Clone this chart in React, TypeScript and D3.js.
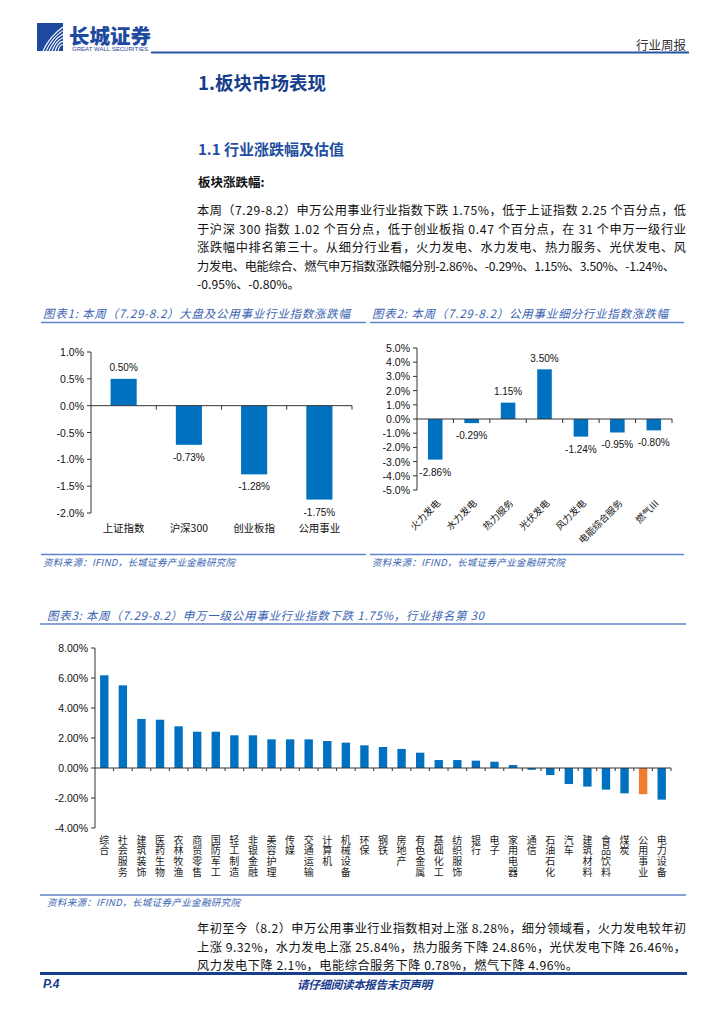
import * as d3 from "d3";

const W = 724;
const H = 1024;

const CN = '"Noto Sans CJK SC", "Noto Sans", sans-serif';
const LAT = '"Liberation Sans", Arial, "Noto Sans CJK SC", sans-serif';

const BAR = "#0070c0";
const HIGHLIGHT = "#ed7d31";
const TITLE_BLUE = "#3a64b2";
const RULE_BLUE = "#5f84c9";
const DARK_BLUE = "#163c8c";

// 图表1: 大盘及公用事业
const marketCats = ["上证指数", "沪深300", "创业板指", "公用事业"];
const marketVals = [0.5, -0.73, -1.28, -1.75];
const marketTicks = [1.0, 0.5, 0, -0.5, -1.0, -1.5, -2.0];

// 图表2: 公用事业细分行业
const subCats = ["火力发电", "水力发电", "热力服务", "光伏发电", "风力发电", "电能综合服务", "燃气Ⅲ"];
const subVals = [-2.86, -0.29, 1.15, 3.5, -1.24, -0.95, -0.8];
const subTicks = [5, 4, 3, 2, 1, 0, -1, -2, -3, -4, -5];

// 图表3: 申万一级行业
const swCats = [
  "综合", "社会服务", "建筑装饰", "医药生物", "农林牧渔", "商贸零售", "国防军工", "轻工制造",
  "非银金融", "美容护理", "传媒", "交通运输", "计算机", "机械设备", "环保", "钢铁",
  "房地产", "有色金属", "基础化工", "纺织服饰", "银行", "电子", "家用电器", "通信",
  "石油石化", "汽车", "建筑材料", "食品饮料", "煤炭", "公用事业", "电力设备",
];
const swVals = [
  6.18, 5.51, 3.27, 3.22, 2.78, 2.42, 2.42, 2.18,
  2.18, 1.91, 1.91, 1.91, 1.8, 1.69, 1.51, 1.4,
  1.27, 1.02, 0.53, 0.53, 0.49, 0.42, 0.2, -0.12,
  -0.47, -1.07, -1.24, -1.44, -1.69, -1.75, -2.11,
];
const swTicks = [8, 6, 4, 2, 0, -2, -4];
const swHighlight = "公用事业";

const para1 = [
  "本周（7.29-8.2）申万公用事业行业指数下跌 1.75%，低于上证指数 2.25 个百分点，低",
  "于沪深 300 指数 1.02 个百分点，低于创业板指 0.47 个百分点，在 31 个申万一级行业",
  "涨跌幅中排名第三十。从细分行业看，火力发电、水力发电、热力服务、光伏发电、风",
  "力发电、电能综合、燃气申万指数涨跌幅分别-2.86%、-0.29%、1.15%、3.50%、-1.24%、",
  "-0.95%、-0.80%。",
];
const para2 = [
  "年初至今（8.2）申万公用事业行业指数相对上涨 8.28%，细分领域看，火力发电较年初",
  "上涨 9.32%，水力发电上涨 25.84%，热力服务下降 24.86%，光伏发电下降 26.46%，",
  "风力发电下降 2.1%，电能综合服务下降 0.78%，燃气下降 4.96%。",
];

const SOURCE = "资料来源：IFIND，长城证券产业金融研究院";

function Paragraph({ lines, y0, widths }: { lines: string[]; y0: number; widths: (number | null)[] }) {
  return (
    <g fontFamily={CN} fontSize={12.2} fill="#111">
      {lines.map((l, i) => (
        <text
          key={i}
          x={197}
          y={y0 + i * 18.6}
          dominantBaseline="central"
          textLength={widths[i] ?? undefined}
          lengthAdjust="spacing"
        >
          {l}
        </text>
      ))}
    </g>
  );
}

function pct(d: number, digits: number) {
  return `${d.toFixed(digits)}%`;
}

function BarPanel({
  cats,
  vals,
  ticks,
  x0,
  x1,
  yTop,
  yBot,
  tickDigits,
  rotated,
}: {
  cats: string[];
  vals: number[];
  ticks: number[];
  x0: number;
  x1: number;
  yTop: number;
  yBot: number;
  tickDigits: number;
  rotated: boolean;
}) {
  const x = d3.scaleBand<string>().domain(cats).range([x0, x1]).padding(0);
  const y = d3
    .scaleLinear()
    .domain([ticks[0], ticks[ticks.length - 1]])
    .range([yTop, yBot]);
  const bw = x.bandwidth() * 0.4;
  const zero = y(0);
  const bounds = cats.map((c) => (x(c) ?? 0) + x.bandwidth());
  return (
    <g>
      {/* y axis */}
      <line x1={x0} x2={x0} y1={yTop} y2={yBot} stroke="#333" />
      {ticks.map((t) => (
        <g key={t}>
          <line x1={x0 - 4} x2={x0} y1={y(t)} y2={y(t)} stroke="#333" />
          <text
            x={x0 - 7}
            y={y(t)}
            textAnchor="end"
            dominantBaseline="central"
            fontFamily={LAT}
            fontSize={10.5}
            fill="#111"
          >
            {pct(t, tickDigits)}
          </text>
        </g>
      ))}
      {/* bars */}
      {cats.map((c, i) => {
        const v = vals[i];
        const cx = (x(c) ?? 0) + x.bandwidth() / 2;
        const top = Math.min(y(v), zero);
        const h = Math.abs(y(v) - zero);
        return (
          <g key={c}>
            <rect x={cx - bw / 2} y={top} width={bw} height={h} fill={BAR} />
            <text
              x={cx}
              y={v >= 0 ? y(v) - 11 : y(v) + 12.5}
              textAnchor="middle"
              dominantBaseline="central"
              fontFamily={LAT}
              fontSize={10}
              fill="#111"
            >
              {pct(v, 2)}
            </text>
            {rotated ? (
              <text
                transform={`translate(${cx + 3},${yBot + 11}) rotate(-45)`}
                textAnchor="end"
                dominantBaseline="central"
                fontFamily={CN}
                fontSize={9.5}
                fill="#111"
              >
                {c}
              </text>
            ) : (
              <text
                x={cx}
                y={yBot + 14}
                textAnchor="middle"
                dominantBaseline="central"
                fontFamily={CN}
                fontSize={10.5}
                fill="#111"
              >
                {c}
              </text>
            )}
          </g>
        );
      })}
      {/* x axis at zero */}
      <line x1={x0} x2={x1} y1={zero} y2={zero} stroke="#333" />
      {bounds.map((b, i) => (
        <line key={i} x1={b} x2={b} y1={zero} y2={zero + 4} stroke="#333" />
      ))}
    </g>
  );
}

function IndustryChart() {
  const x0 = 95;
  const x1 = 671;
  const x = d3.scaleBand<string>().domain(swCats).range([x0, x1]).padding(0);
  const y = d3
    .scaleLinear()
    .domain([swTicks[0], swTicks[swTicks.length - 1]])
    .range([648, 828]);
  const bw = x.bandwidth() * 0.45;
  const zero = y(0);
  return (
    <g>
      <line x1={x0} x2={x0} y1={648} y2={828} stroke="#333" />
      {swTicks.map((t) => (
        <g key={t}>
          <line x1={x0 - 4} x2={x0} y1={y(t)} y2={y(t)} stroke="#333" />
          <text
            x={x0 - 7}
            y={y(t)}
            textAnchor="end"
            dominantBaseline="central"
            fontFamily={LAT}
            fontSize={10.5}
            fill="#111"
          >
            {pct(t, 2)}
          </text>
        </g>
      ))}
      {swCats.map((c, i) => {
        const v = swVals[i];
        const cx = (x(c) ?? 0) + x.bandwidth() / 2;
        return (
          <g key={c}>
            <rect
              x={cx - bw / 2}
              y={Math.min(y(v), zero)}
              width={bw}
              height={Math.abs(y(v) - zero)}
              fill={c === swHighlight ? HIGHLIGHT : BAR}
            />
            <text fontFamily={CN} fontSize={10} fill="#222" textAnchor="middle">
              {Array.from(c).map((ch, k) => (
                <tspan key={k} x={cx} y={839 + k * 10.8} dominantBaseline="central">
                  {ch}
                </tspan>
              ))}
            </text>
          </g>
        );
      })}
      <line x1={x0} x2={x1} y1={zero} y2={zero} stroke="#333" />
      {swCats.map((c) => {
        const b = (x(c) ?? 0) + x.bandwidth();
        return <line key={c} x1={b} x2={b} y1={zero} y2={zero + 3} stroke="#333" />;
      })}
    </g>
  );
}

function ChartTitle({ x, y, text, width }: { x: number; y: number; text: string; width: number }) {
  return (
    <text
      x={x}
      y={y}
      dominantBaseline="central"
      fontFamily={CN}
      fontSize={11.5}
      fontStyle="italic"
      fill={TITLE_BLUE}
      textLength={width}
      lengthAdjust="spacing"
    >
      {text}
    </text>
  );
}

function Source({ x, y, width }: { x: number; y: number; width: number }) {
  return (
    <text
      x={x}
      y={y}
      dominantBaseline="central"
      fontFamily={CN}
      fontSize={9.5}
      fontStyle="italic"
      fill={TITLE_BLUE}
      textLength={width}
      lengthAdjust="spacing"
    >
      {SOURCE}
    </text>
  );
}

function Logo() {
  const curves = [0, 1, 2, 3, 4, 5];
  return (
    <g>
      <rect x={37} y={23} width={26} height={28} fill="#1d4a9e" />
      {curves.map((i) => (
        <path
          key={i}
          d={`M${43 + i * 3},51 Q${50 + i * 2},${36 + i * 1.5} ${63},${27 + i * 3.6}`}
          fill="none"
          stroke="#fff"
          strokeWidth={1.1}
        />
      ))}
      <text
        x={69}
        y={35}
        dominantBaseline="central"
        fontFamily={CN}
        fontWeight={900}
        fontSize={20}
        fill="#1d4a9e"
        textLength={82}
        lengthAdjust="spacingAndGlyphs"
      >
        长城证券
      </text>
      <text
        x={72}
        y={48.5}
        dominantBaseline="central"
        fontFamily={LAT}
        fontSize={6}
        fill="#1d4a9e"
        textLength={76}
        lengthAdjust="spacingAndGlyphs"
      >
        GREAT WALL SECURITIES
      </text>
    </g>
  );
}

export default function App() {
  return (
    <svg
      width={W}
      height={H}
      viewBox={`0 0 ${W} ${H}`}
      style={{ position: "absolute", left: 0, top: 0, display: "block", background: "#fff" }}
    >
      <rect width={W} height={H} fill="#fff" />

      {/* header */}
      <Logo />
      <line x1={151} x2={689} y1={52.5} y2={52.5} stroke="#2452a6" strokeWidth={2} />
      <text x={686} y={44} textAnchor="end" dominantBaseline="central" fontFamily={CN} fontSize={12.5} fill="#333">
        行业周报
      </text>

      <text x={198} y={82} dominantBaseline="central" fontFamily={CN} fontWeight={700} fontSize={18.5} fill={DARK_BLUE}>
        1.板块市场表现
      </text>
      <text x={198} y={148} dominantBaseline="central" fontFamily={CN} fontWeight={700} fontSize={15} fill="#1f4f9f">
        1.1 行业涨跌幅及估值
      </text>
      <text x={198} y={181} dominantBaseline="central" fontFamily={CN} fontWeight={700} fontSize={12.5} fill="#111">
        板块涨跌幅:
      </text>

      <Paragraph lines={para1} y0={210} widths={[489, 489, 489, 478, null]} />

      {/* chart 1 & 2 frames */}
      <ChartTitle x={43} y={313} width={307} text="图表1: 本周（7.29-8.2）大盘及公用事业行业指数涨跌幅" />
      <ChartTitle x={372} y={313} width={296} text="图表2: 本周（7.29-8.2）公用事业细分行业指数涨跌幅" />
      <line x1={41} x2={366} y1={322.5} y2={322.5} stroke={RULE_BLUE} strokeWidth={1.5} />
      <line x1={370} x2={684} y1={322.5} y2={322.5} stroke={RULE_BLUE} strokeWidth={1.5} />

      <BarPanel
        cats={marketCats}
        vals={marketVals}
        ticks={marketTicks}
        x0={91}
        x1={352}
        yTop={352}
        yBot={513}
        tickDigits={1}
        rotated={false}
      />
      <BarPanel
        cats={subCats}
        vals={subVals}
        ticks={subTicks}
        x0={417}
        x1={672}
        yTop={348}
        yBot={490}
        tickDigits={1}
        rotated={true}
      />

      <line x1={41} x2={366} y1={554.5} y2={554.5} stroke={RULE_BLUE} strokeWidth={1.5} />
      <line x1={370} x2={684} y1={554.5} y2={554.5} stroke={RULE_BLUE} strokeWidth={1.5} />
      <Source x={43} y={562} width={192} />
      <Source x={372} y={562} width={193} />

      {/* chart 3 */}
      <ChartTitle x={47} y={615} width={437} text="图表3: 本周（7.29-8.2）申万一级公用事业行业指数下跌 1.75%，行业排名第 30" />
      <line x1={40} x2={686} y1={624} y2={624} stroke={RULE_BLUE} strokeWidth={1.5} />
      <IndustryChart />
      <line x1={40} x2={686} y1={895} y2={895} stroke={RULE_BLUE} strokeWidth={1.5} />
      <Source x={47} y={901.5} width={193} />

      <Paragraph lines={para2} y0={928} widths={[489, 489, 381]} />

      {/* footer */}
      <line x1={40} x2={687} y1={973.5} y2={973.5} stroke="#163f8f" strokeWidth={3} />
      <text x={43} y={984} dominantBaseline="central" fontFamily={LAT} fontWeight={700} fontStyle="italic" fontSize={12} fill={DARK_BLUE}>
        P.4
      </text>
      <text
        x={297}
        y={984}
        dominantBaseline="central"
        fontFamily={CN}
        fontWeight={700}
        fontStyle="italic"
        fontSize={11.5}
        fill={DARK_BLUE}
        textLength={135}
        lengthAdjust="spacing"
      >
        请仔细阅读本报告末页声明
      </text>
    </svg>
  );
}
